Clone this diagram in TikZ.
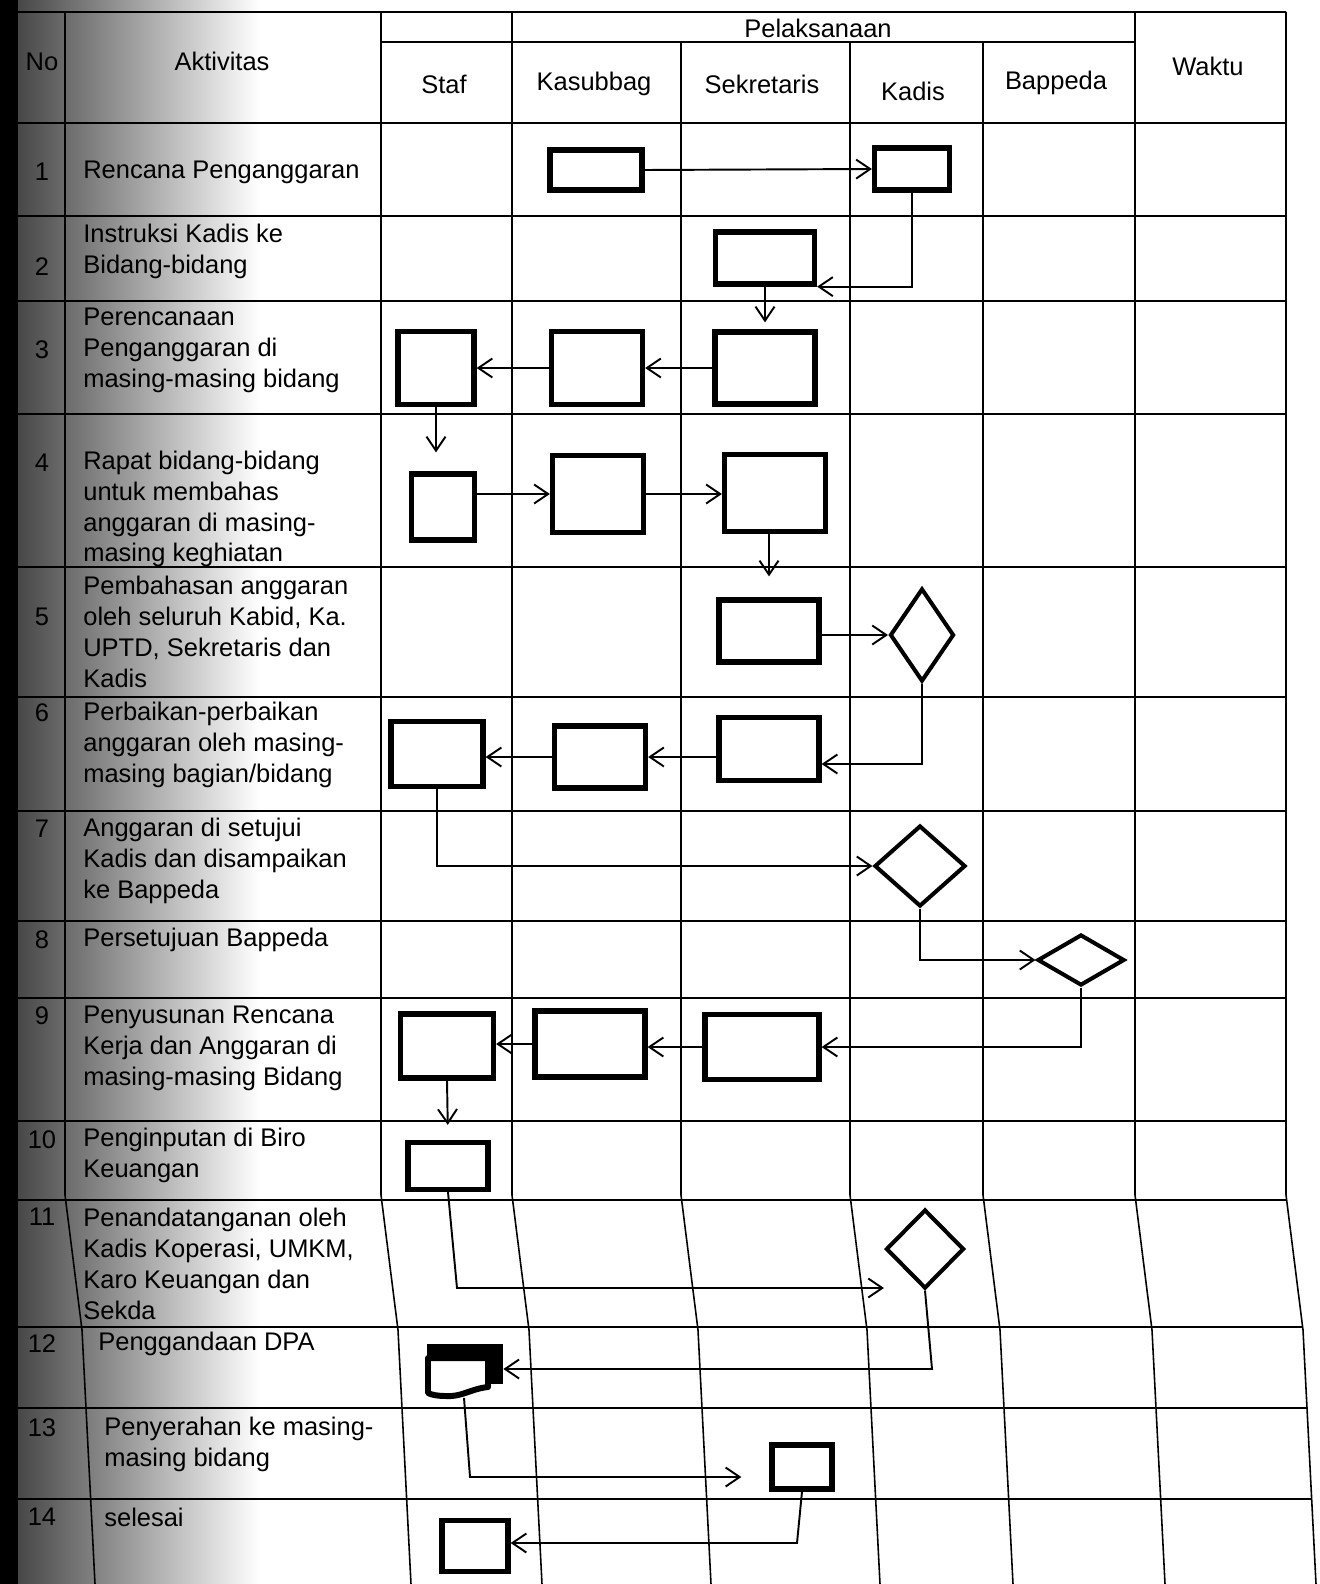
\documentclass[tikz,border=0pt]{standalone}
\usepackage{fontspec}
\setmainfont{Liberation Sans}
\usetikzlibrary{arrows.meta,shapes.geometric,calc}
\newcommand\aktfont{\fontsize{14.5}{17.6}\selectfont}

\tikzset{
  grid/.style={line width=0.9pt},
  box/.style={draw, rectangle, line width=3pt, inner sep=0pt},
  dec/.style={draw, diamond, line width=2.3pt, inner sep=0pt},
  sz/.style 2 args={minimum width=#1*0.2mm, minimum height=#2*0.2mm},
  arr/.style={-{Straight Barb[length=2.8mm,width=3.8mm]}, line width=1.1pt},
  akt/.style={anchor=west, align=left, inner sep=0pt, font=\aktfont},
  head/.style={inner sep=0pt, font=\aktfont},
}

\begin{document}
\begin{tikzpicture}[x=0.2mm, y=-0.2mm]
  \useasboundingbox (0,0) rectangle (1320,1584);

  % dark edge of the scan
  \fill[black] (0,0) rectangle (18,1584);
  \shade[left color=black!72, right color=white] (18,0) rectangle (260,1584);

  % table
  \begin{scope}
    \clip (0,0) -- (1286,0) -- (1286,1195) -- (1303,1330) -- (1316,1584) -- (0,1584) -- cycle;
    \foreach \y in {12,123,216,301,414,567,697,811,921,998,1121,1200,1327,1408,1499}
      \draw[grid] (0,\y) -- (1330,\y);
  \end{scope}
  \draw[grid] (381,42) -- (1135,42);
  \foreach \x in {65,381,512,1135,1286}
    \draw[grid] (\x,12) -- (\x,1195) -- (\x+17,1330) -- (\x+30,1584);
  \foreach \x in {681,850,983}
    \draw[grid] (\x,42) -- (\x,1195) -- (\x+17,1330) -- (\x+30,1584);

  % header
  \node[head] (hno) at (42,62) {No};
  \node[head] (hakt) at (222,61) {Aktivitas};
  \node[head] (hpel) at (818,28) {Pelaksanaan};
  \node[head] (hstaf) at (444,84) {Staf};
  \node[head] (hkas) at (594,84) {Kasubbag};
  \node[head] (hsek) at (762,84) {Sekretaris};
  \node[head] (hkadis) at (913,91) {Kadis};
  \node[head] (hbap) at (1056,83) {Bappeda};
  \node[head] (hwak) at (1208,66) {Waktu};

  % nomor
  \foreach \n/\y in {1/172,2/267,3/350,4/463,5/617,6/713,7/829,8/940,9/1016,10/1140,11/1217,12/1344,13/1428,14/1517}
    \node[head] (no\n) at (42,\y) {\n};

  % aktivitas
  \node[akt] (a1) at (83,172) {Rencana Penganggaran};
  \node[akt] (a2) at (83,251) {Instruksi Kadis ke\\Bidang-bidang};
  \node[akt] (a3) at (83,350) {Perencanaan\\Penganggaran di\\masing-masing bidang};
  \node[akt] (a4) at (83,509) {Rapat bidang-bidang\\untuk membahas\\anggaran di masing-\\masing keghiatan};
  \node[akt] (a5) at (83,632) {Pembahasan anggaran\\oleh seluruh Kabid, Ka.\\UPTD, Sekretaris dan\\Kadis};
  \node[akt] (a6) at (83,745) {Perbaikan-perbaikan\\anggaran oleh masing-\\masing bagian/bidang};
  \node[akt] (a7) at (83,861) {Anggaran di setujui\\Kadis dan disampaikan\\ke Bappeda};
  \node[akt] (a8) at (83,940) {Persetujuan Bappeda};
  \node[akt] (a9) at (83,1048) {Penyusunan Rencana\\Kerja dan Anggaran di\\masing-masing Bidang};
  \node[akt] (a10) at (83,1155) {Penginputan di Biro\\Keuangan};
  \node[akt] (a11) at (83,1264) {Penandatanganan oleh\\Kadis Koperasi, UMKM,\\Karo Keuangan dan\\Sekda};
  \node[akt] (a12) at (98,1344) {Penggandaan DPA};
  \node[akt] (a13) at (104,1444) {Penyerahan ke masing-\\masing bidang};
  \node[akt] (a14) at (104,1517) {selesai};

  % simbol alur
  \node[box, sz={92}{40}] (k1) at (596,170) {};
  \node[box, sz={75}{42}] (d1) at (912,169) {};
  \node[box, sz={99}{52}] (s2) at (765,258) {};
  \node[box, sz={100}{72}] (s3) at (765,368) {};
  \node[box, sz={91}{73}] (k3) at (597,368) {};
  \node[box, sz={76}{73}] (st3) at (436,368) {};
  \node[box, sz={63}{66}] (st4) at (443,507) {};
  \node[box, sz={91}{77}] (k4) at (598,494) {};
  \node[box, sz={101}{77}] (s4) at (775,493) {};
  \node[box, sz={100}{62}] (s5) at (769,631) {};
  \node[dec, sz={64}{93}] (d5) at (922,635) {};
  \node[box, sz={100}{63}] (s6) at (769,749) {};
  \node[box, sz={91}{62}] (k6) at (600,757) {};
  \node[box, sz={92}{65}] (st6) at (437,754) {};
  \node[dec, sz={91}{81}] (d7) at (920,866) {};
  \node[dec, sz={87}{51}] (b8) at (1081,960) {};
  \node[box, sz={114}{65}] (s9) at (762,1047) {};
  \node[box, sz={110}{66}] (k9) at (590,1044) {};
  \node[box, sz={93}{64}] (st9) at (447,1046) {};
  \node[box, sz={80}{47}] (st10) at (448,1166) {};
  \node[dec, sz={78}{79}] (d11) at (925,1249) {};
  \node[inner sep=0pt, sz={78}{55}] (dpa) at (464,1370) {};
  \node[box, sz={60}{44}] (s13) at (802,1467) {};
  \node[box, sz={66}{51}] (st14) at (475,1546) {};

  % dokumen DPA
  \fill[black] (427,1344) rectangle (503,1384);
  \filldraw[fill=white, line width=3.4pt, line join=round]
    (428,1358) -- (488,1358) -- (488,1387)
    .. controls (470,1389) and (462,1397) .. (446,1396)
    .. controls (438,1396) and (432,1395) .. (428,1393) -- cycle;

  \coordinate (c11) at (457,1288);
  \coordinate (c12) at (932,1369);
  \coordinate (c13) at (470,1477);
  \coordinate (c14) at (797,1543);

  % alur
  \draw[arr] (k1.east) -- (d1.west);
  \draw[arr] (d1.south) |- (s2.south east);
  \draw[arr, shorten >=1.4mm] (s2.south) -- (s3.north);
  \draw[arr] (s3.west) -- (k3.east);
  \draw[arr] (k3.west) -- (st3.east);
  \draw[arr, shorten >=3.8mm] (st3.south) -- (st3.south |- st4.north);
  \draw[arr] (k4.west -| st4.east) -- (k4.west);
  \draw[arr] (k4.east) -- (k4.east -| s4.west);
  \draw[arr, shorten >=4.2mm] (s4.south -| s5.north) -- (s5.north);
  \draw[arr] (d5.west -| s5.east) -- (d5.west);
  \draw[arr] (d5.south) |- ($(s6.east)+(0,15)$);
  \draw[arr] (s6.west |- k6.east) -- (k6.east);
  \draw[arr] (k6.west) -- (k6.west -| st6.east);
  \draw[arr] (st6.south) |- (d7.west);
  \draw[arr] (d7.south) |- (b8.west);
  \draw[arr] (b8.south) |- (s9.east);
  \draw[arr] (s9.west) -- (s9.west -| k9.east);
  \draw[arr] (k9.west) -- (k9.west -| st9.east);
  \draw[arr, shorten >=3mm] (st9.south) -- (st10.north);
  \draw[arr] (st10.south) -- (c11) -- (c11 -| d11.west);
  \draw[arr] (d11.south) -- (c12) -- (c12 -| dpa.east);
  \draw[arr, shorten >=5.6mm] (dpa.south) -- (c13) -- (c13 -| s13.west);
  \draw[arr] (s13.south) -- (c14) -- (c14 -| st14.east);
\end{tikzpicture}
\end{document}
